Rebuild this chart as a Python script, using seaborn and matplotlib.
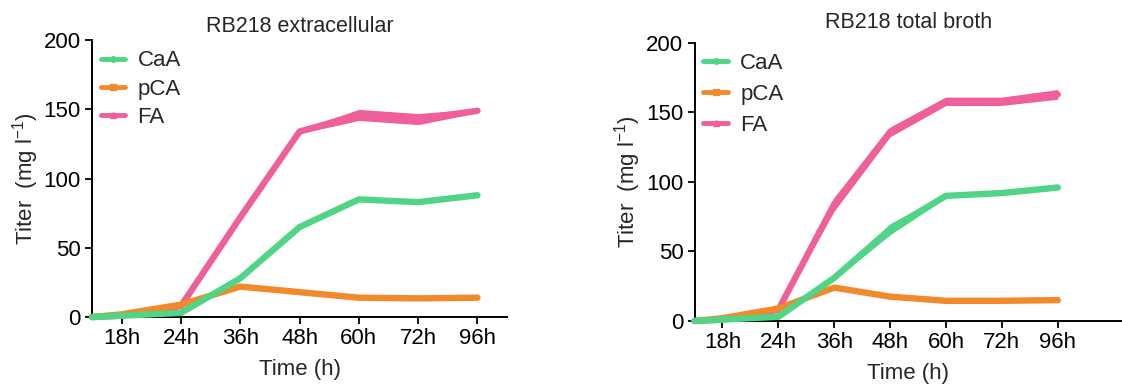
import numpy as np
import pandas as pd
import seaborn as sns
from matplotlib import pyplot as plt
from matplotlib.lines import Line2D

# sampling times (first point is the t=0 start, drawn without a label)
time_labels = ["0h", "18h", "24h", "36h", "48h", "60h", "72h", "96h"]
compounds = ["CaA", "pCA", "FA"]

# RB218 extracellular, mean and sd (mg/l)
ext_caa = [0, 1, 3, 28, 65, 85, 83, 88]
ext_pca = [0, 2, 9, 22, 18, 14, 13.5, 14]
ext_fa = [0, 1, 8, 72, 134, 146, 143, 149]
ext_caa_sd = [0, 0.5, 0.5, 1, 1, 1, 1, 1]
ext_pca_sd = [0, 0.5, 0.5, 1, 0.8, 0.8, 0.8, 0.8]
ext_fa_sd = [0, 0.5, 0.5, 1.5, 1.5, 4, 4, 1.5]

# RB218 total broth
tot_caa = [0, 1, 3, 31, 66, 90, 92, 96]
tot_pca = [0, 2, 9, 24, 17.5, 14.5, 14.5, 15]
tot_fa = [0, 1, 8, 84, 136, 158, 158, 163]
tot_caa_sd = [0, 0.5, 0.5, 1.5, 4, 1.5, 1.5, 1.5]
tot_pca_sd = [0, 0.5, 1, 1.5, 1, 1, 1, 1]
tot_fa_sd = [0, 0.5, 0.5, 5, 3.5, 3, 3, 3.5]

colors = {"CaA": "#4fd585", "pCA": "#f08a2a", "FA": "#ef5f99"}
markers = {"CaA": "o", "pCA": "s", "FA": "^"}

sns.set_style("ticks")
plt.rcParams['font.family'] = ['Liberation Sans', 'DejaVu Sans']
FS = 16

# categorical positions; the start point sits half a step before 18h
x_pos = np.arange(len(time_labels)) - 1.0
x_pos[0] = -0.5


def make_df(caa, pca, fa, caa_sd, pca_sd, fa_sd):
    rows = []
    for name, vals, sds in [("CaA", caa, caa_sd), ("pCA", pca, pca_sd), ("FA", fa, fa_sd)]:
        for t, x, v, s in zip(time_labels, x_pos, vals, sds):
            rows.append({"time": t, "x": x, "compound": name, "titer": v, "sd": s})
    return pd.DataFrame(rows)


def draw_panel(ax, df, title, xmax, title_pad, leg_space):
    # FA at the back, CaA on top
    for z, name in enumerate(["FA", "pCA", "CaA"]):
        d = df[df.compound == name]
        ax.fill_between(d.x, d.titer - d.sd, d.titer + d.sd, color=colors[name],
                        lw=0, zorder=2 + z, clip_on=False)
        sns.lineplot(data=d, x="x", y="titer", ax=ax, color=colors[name], lw=4.6,
                     zorder=2 + z, solid_capstyle="round", legend=False, clip_on=False)
    ax.set_xlim(-0.5, xmax)
    ax.set_ylim(0, 200)
    ax.set_yticks([0, 50, 100, 150, 200])
    ax.set_xticks(x_pos[1:])
    ax.set_xticklabels(time_labels[1:])
    ax.tick_params(labelsize=FS, width=1.3, length=5, pad=3, colors="black")
    for s in ["left", "bottom"]:
        ax.spines[s].set_linewidth(1.4)
        ax.spines[s].set_color("black")
    sns.despine(ax=ax)
    ax.set_xlabel("Time (h)", fontsize=FS, labelpad=7)
    ax.set_ylabel("Titer  (mg l$^{\\mathregular{-1}}$)", fontsize=FS, labelpad=2)
    ax.set_title(title, fontsize=15.5, pad=title_pad)
    handles = [Line2D([0], [0], color=colors[n], lw=3.5, marker=markers[n], markersize=4)
               for n in compounds]
    ax.legend(handles, compounds, loc="upper left", bbox_to_anchor=(0.0, 0.995), frameon=False,
              fontsize=FS, handlelength=1.1, handletextpad=0.55, labelspacing=leg_space,
              borderaxespad=0.0)


fig = plt.figure(figsize=(11.22, 3.9), dpi=100)
ax1 = fig.add_axes([0.082, 0.187, 0.37, 0.71])
ax2 = fig.add_axes([0.619, 0.177, 0.381, 0.713])

draw_panel(ax1, make_df(ext_caa, ext_pca, ext_fa, ext_caa_sd, ext_pca_sd, ext_fa_sd),
           "RB218 extracellular", 6.5, 6, 0.32)
draw_panel(ax2, make_df(tot_caa, tot_pca, tot_fa, tot_caa_sd, tot_pca_sd, tot_fa_sd),
           "RB218 total broth", 7.15, 11, 0.45)

fig.savefig("out.png", dpi=100)
